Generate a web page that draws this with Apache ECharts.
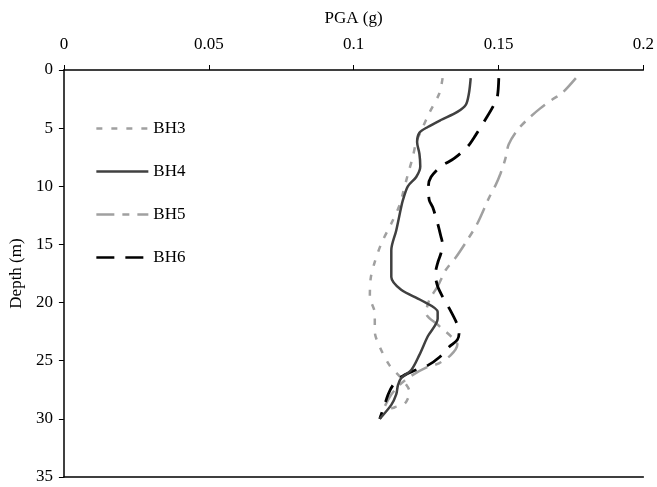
<!DOCTYPE html>
<html>
<head>
<meta charset="utf-8">
<script src="https://cdn.jsdelivr.net/npm/echarts@6/dist/echarts.min.js"></script>
<style>
  html, body { margin: 0; padding: 0; background: #fff; }
  #chart { width: 657px; height: 487px; }
</style>
</head>
<body>
<div id="chart"></div>
<script>
// Peak ground acceleration profiles with depth for four boreholes
const seriesNames = ['BH3', 'BH4', 'BH5', 'BH6'];

const depthBH3 = [0.7, 2.0, 3.7, 4.9, 6.2, 7.5, 9.0, 10.6, 11.6, 13.2, 14.9, 16.5, 17.9, 19.5, 20.9, 22.5, 23.8, 25.4, 26.5, 27.7, 28.7, 29.0, 29.4, 30.0];
const pgaBH3   = [0.1307, 0.1296, 0.1261, 0.1239, 0.1216, 0.1204, 0.1187, 0.1170, 0.1159, 0.1130, 0.1096, 0.1073, 0.1059, 0.1056, 0.1073, 0.1073, 0.1090, 0.1124, 0.1164, 0.1193, 0.1176, 0.1142, 0.1106, 0.1090];

const depthBH4 = [0.7, 2.0, 3.0, 3.6, 4.3, 4.9, 5.4, 6.2, 7.2, 8.3, 9.2, 10.0, 11.2, 11.8, 13.8, 15.5, 17.8, 18.9, 19.8, 20.8, 21.4, 22.9, 24.5, 25.8, 26.5, 27.1, 27.9, 28.8, 30.0];
const pgaBH4   = [0.1404, 0.1398, 0.1387, 0.1358, 0.1301, 0.1256, 0.1227, 0.1219, 0.1227, 0.1230, 0.1216, 0.1187, 0.1170, 0.1164, 0.1147, 0.1130, 0.1130, 0.1164, 0.1233, 0.1290, 0.1290, 0.1256, 0.1227, 0.1199, 0.1164, 0.1153, 0.1147, 0.1130, 0.1090];

const depthBH5 = [0.7, 2.0, 2.5, 3.3, 4.3, 5.2, 6.4, 7.6, 8.9, 9.9, 11.0, 13.2, 14.6, 16.1, 17.2, 18.6, 19.8, 20.9, 21.9, 22.9, 23.6, 24.5, 25.2, 25.6, 26.3, 27.1, 27.9, 28.8, 30.0];
const pgaBH5   = [0.1767, 0.1719, 0.1688, 0.1644, 0.1598, 0.1564, 0.1535, 0.1524, 0.1507, 0.1490, 0.1467, 0.1427, 0.1393, 0.1353, 0.1318, 0.1290, 0.1261, 0.1250, 0.1290, 0.1336, 0.1358, 0.1336, 0.1296, 0.1250, 0.1199, 0.1158, 0.1130, 0.1110, 0.1090];

const depthBH6 = [0.7, 2.3, 3.0, 4.0, 5.6, 6.6, 7.6, 8.3, 9.2, 10.0, 11.2, 11.8, 13.2, 14.3, 15.0, 15.8, 16.6, 17.6, 18.6, 19.5, 20.5, 21.9, 22.6, 23.2, 23.8, 24.7, 25.4, 25.9, 26.4, 27.1, 27.9, 28.8, 30.0];
const pgaBH6   = [0.1501, 0.1496, 0.1484, 0.1461, 0.1421, 0.1393, 0.1347, 0.1301, 0.1267, 0.1258, 0.1261, 0.1273, 0.1290, 0.1301, 0.1307, 0.1301, 0.1290, 0.1282, 0.1290, 0.1307, 0.1330, 0.1358, 0.1364, 0.1358, 0.1330, 0.1296, 0.1256, 0.1204, 0.1164, 0.1136, 0.1119, 0.1107, 0.1090];

const pgaTicks = [0, 0.05, 0.1, 0.15, 0.2];
const depthTicks = [0, 5, 10, 15, 20, 25, 30, 35];

const pairs = (xs, ys) => xs.map((x, i) => [x, ys[i]]);

const FONT = '"Liberation Serif", "DejaVu Serif", serif';
const FS = 17;
const textStyle = { fontFamily: FONT, fontSize: FS, color: '#000' };

const styles = [
  { color: '#a0a0a0', width: 2.5, type: [6, 9] },
  { color: '#404040', width: 2.5, type: 'solid' },
  { color: '#a0a0a0', width: 2.5, type: [18, 8, 7, 8] },
  { color: '#000000', width: 2.8, type: [18, 11] }
];
const dataSets = [
  pairs(pgaBH3, depthBH3),
  pairs(pgaBH4, depthBH4),
  pairs(pgaBH5, depthBH5),
  pairs(pgaBH6, depthBH6)
];

const chart = echarts.init(document.getElementById('chart'), null, { renderer: 'canvas' });
chart.setOption({
  animation: false,
  backgroundColor: '#fff',
  textStyle: { fontFamily: FONT },
  grid: { left: 60, right: 13, top: 70, bottom: 10, containLabel: false },
  legend: {
    orient: 'vertical',
    left: 90,
    top: 115,
    itemWidth: 52,
    itemHeight: 14,
    itemGap: 26,
    itemStyle: { opacity: 0 },
    lineStyle: { width: 2.7 },
    textStyle: textStyle,
    data: seriesNames
  },
  xAxis: [
    {
      type: 'value',
      position: 'top',
      min: pgaTicks[0],
      max: pgaTicks[pgaTicks.length - 1],
      interval: 0.05,
      name: 'PGA (g)',
      nameLocation: 'middle',
      nameGap: 43,
      nameTextStyle: textStyle,
      axisLine: { show: true, onZero: false, lineStyle: { color: '#000', width: 1.5 } },
      axisTick: { show: true, inside: false, length: 5, lineStyle: { color: '#000', width: 1 } },
      axisLabel: {
        margin: 17,
        fontFamily: FONT, fontSize: FS, color: '#000',
        formatter: v => String(+v.toFixed(2))
      },
      splitLine: { show: false }
    },
    {
      type: 'value',
      position: 'bottom',
      min: pgaTicks[0],
      max: pgaTicks[pgaTicks.length - 1],
      axisLine: { show: true, onZero: false, lineStyle: { color: '#000', width: 1.5 } },
      axisTick: { show: false },
      axisLabel: { show: false },
      splitLine: { show: false }
    }
  ],
  yAxis: {
    type: 'value',
    inverse: true,
    min: depthTicks[0],
    max: depthTicks[depthTicks.length - 1],
    interval: 5,
    name: 'Depth (m)',
    nameLocation: 'middle',
    nameGap: 35,
    nameRotate: 90,
    nameTextStyle: textStyle,
    axisLine: { show: true, onZero: false, lineStyle: { color: '#000', width: 1.5 } },
    axisTick: { show: true, inside: false, length: 5, lineStyle: { color: '#000', width: 1 } },
    axisLabel: { margin: 11, fontFamily: FONT, fontSize: FS, color: '#000' },
    splitLine: { show: false }
  },
  series: seriesNames.map((name, i) => ({
    name: name,
    type: 'line',
    xAxisIndex: 0,
    data: dataSets[i],
    showSymbol: false,
    symbol: 'none',
    smooth: 0.3,
    lineStyle: { color: styles[i].color, width: styles[i].width, type: styles[i].type, cap: 'butt' },
    itemStyle: { color: styles[i].color },
    z: 2 + (i === 1 ? 1 : 0)
  }))
});
</script>
</body>
</html>
